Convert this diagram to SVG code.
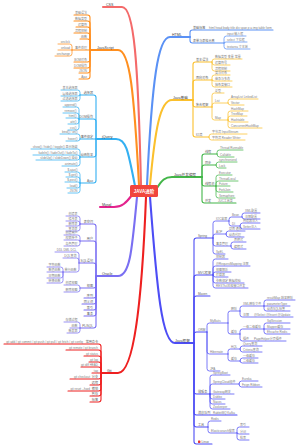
<svg xmlns="http://www.w3.org/2000/svg" width="300" height="447" viewBox="0 0 300 447">
<style>
text{font-family:"Liberation Sans","Noto Sans CJK SC",sans-serif;font-size:3px;fill:#808080}
.m{font-size:3.6px;fill:#444}
.s{font-size:3.1px;fill:#666}
.e{text-anchor:end}
.r{font-size:4.5px;fill:#fff;font-weight:bold;text-anchor:middle}
path{fill:none;stroke-linecap:round;stroke-linejoin:round}
.w0{stroke-width:2.1}
.w1{stroke-width:1.1}
.w2{stroke-width:.75}
.cs{stroke:#f46a6a}
.js{stroke:#ff8f1f}
.jq{stroke:#33b0f2}
.my{stroke:#e3238d}
.or{stroke:#7a6ff2}
.gt{stroke:#ee2020}
.ht{stroke:#5a91f5}
.jb{stroke:#fbc02d}
.gr{stroke:#43b649}
.jf{stroke:#4d4df5}
</style>
<rect width="300" height="447" fill="#fff"/>
<g id="connectors">
<g class="cs"><path class="w0" d="M141,185C138,60 134,7 122,7H103"/></g>
<g class="js">
<path class="w0" d="M139,185C134,92 130,50 118,50H90"/>
<path class="w1" d="M90,50V17.5Q90,15 87.5,15H74"/>
<path class="w1" d="M90,50V23.5Q90,21 87.5,21H74"/>
<path class="w1" d="M90,50V29.5Q90,27 87.5,27H76"/>
<path class="w1" d="M90,50V35.5Q90,33 87.5,33H74"/>
<path class="w1" d="M90,50V41.5Q90,39 87.5,39H80"/>
<path class="w1" d="M90,50H72"/>
<path class="w1" d="M90,50V59.5Q90,62 87.5,62H74"/>
<path class="w1" d="M90,50V65.5Q90,68 87.5,68H74"/>
<path class="w1" d="M90,50V70.5Q90,73 87.5,73H79"/>
<path class="w1" d="M90,50V76.5Q90,79 87.5,79H79"/>
<path class="w2" d="M72,50V46.5Q72,44 69.5,44H58"/>
<path class="w2" d="M72,50H58"/>
<path class="w2" d="M72,50V53.5Q72,56 69.5,56H55"/>
</g>
<g class="jq">
<path class="w0" d="M135,186C128,150 126,139 116,139H96"/>
<path class="w1" d="M96,139V97.5Q96,95 93.5,95H80"/>
<path class="w1" d="M96,139V121.5Q96,119 93.5,119H79"/>
<path class="w1" d="M96,139H80"/>
<path class="w1" d="M96,139V154.5Q96,157 93.5,157H80"/>
<path class="w1" d="M96,139V180.5Q96,183 93.5,183H80"/>
<path class="w2" d="M80,95V92.5Q80,90 77.5,90H61"/>
<path class="w2" d="M80,95Q80,96 77.5,96H61"/>
<path class="w2" d="M80,95V98.5Q80,101 77.5,101H61"/>
<path class="w2" d="M79,119V109.5Q79,107 76.5,107H63"/>
<path class="w2" d="M79,119V115.5Q79,113 76.5,113H63"/>
<path class="w2" d="M79,119Q79,118 76.5,118H66"/>
<path class="w2" d="M79,119V121.5Q79,124 76.5,124H68"/>
<path class="w2" d="M79,119V127.5Q79,130 76.5,130H68"/>
<path class="w2" d="M80,139V136.5Q80,134 77.5,134H60"/>
<path class="w2" d="M80,139Q80,141 77.5,141H66"/>
<path class="w2" d="M80,157V151.5Q80,149 77.5,149H31"/>
<path class="w2" d="M80,157Q80,155 77.5,155H33"/>
<path class="w2" d="M80,157Q80,160 77.5,160H36"/>
<path class="w2" d="M80,157V163.5Q80,166 77.5,166H62"/>
<path class="w2" d="M80,183V174.5Q80,172 77.5,172H65"/>
<path class="w2" d="M80,183V179.5Q80,177 77.5,177H66"/>
<path class="w2" d="M80,183Q80,182 77.5,182H65"/>
<path class="w2" d="M80,183V185.5Q80,188 77.5,188H67"/>
<path class="w2" d="M80,183V190.5Q80,193 77.5,193H68"/>
</g>
<g class="my"><path class="w0" d="M132,195C126,203 122,207 114,207H100"/></g>
<g class="or">
<path class="w0" d="M137,197C132,250 130,276 118,276H96"/>
<path class="w1" d="M96,276V226.5Q96,224 93.5,224H80"/>
<path class="w1" d="M96,276V243.5Q96,241 93.5,241H80"/>
<path class="w1" d="M96,276V265.5Q96,263 93.5,263H79"/>
<path class="w1" d="M96,276V285.5Q96,288 93.5,288H80"/>
<path class="w1" d="M96,276V295.5Q96,298 93.5,298H84"/>
<path class="w1" d="M96,276V301.5Q96,304 93.5,304H82"/>
<path class="w1" d="M96,276V307.5Q96,310 93.5,310H84"/>
<path class="w1" d="M96,276V313.5Q96,316 93.5,316H84"/>
<path class="w1" d="M96,276V325.5Q96,328 93.5,328H80"/>
<path class="w2" d="M80,224V218.5Q80,216 77.5,216H66"/>
<path class="w2" d="M80,224V223.5Q80,221 77.5,221H66"/>
<path class="w2" d="M80,224Q80,226 77.5,226H66"/>
<path class="w2" d="M80,224V228.5Q80,231 77.5,231H66"/>
<path class="w2" d="M80,241V237.5Q80,235 77.5,235H64"/>
<path class="w2" d="M80,241Q80,240 77.5,240H64"/>
<path class="w2" d="M80,241V243.5Q80,246 77.5,246H64"/>
<path class="w2" d="M79,263V254.5Q79,252 76.5,252H55"/>
<path class="w2" d="M79,263V260.5Q79,258 76.5,258H63"/>
<path class="w2" d="M79,263V269.5Q79,272 76.5,272H63"/>
<path class="w2" d="M63,272V269.5Q63,267 60.5,267H47"/>
<path class="w2" d="M63,272H47"/>
<path class="w2" d="M63,272V275.5Q63,278 60.5,278H47"/>
<path class="w2" d="M63,272V280.5Q63,283 60.5,283H47"/>
<path class="w2" d="M80,288V287.5Q80,285 77.5,285H64"/>
<path class="w2" d="M80,288V289.5Q80,292 77.5,292H64"/>
<path class="w2" d="M80,328V324.5Q80,322 77.5,322H64"/>
<path class="w2" d="M80,328H70"/>
<path class="w2" d="M80,328V330.5Q80,333 77.5,333H67"/>
</g>
<g class="gt">
<path class="w0" d="M146,197C142,300 134,373 118,373H101"/>
<path class="w1" d="M101,373V346.5Q101,344 98.5,344H4"/>
<path class="w1" d="M101,373V352.5Q101,350 98.5,350H66"/>
<path class="w1" d="M101,373V358.5Q101,356 98.5,356H84"/>
<path class="w1" d="M101,373V364.5Q101,362 98.5,362H89"/>
<path class="w1" d="M101,373V369.5Q101,367 98.5,367H81"/>
<path class="w1" d="M101,373H92"/>
<path class="w1" d="M101,373V376.5Q101,379 98.5,379H70"/>
<path class="w1" d="M101,373V382.5Q101,385 98.5,385H90"/>
<path class="w1" d="M101,373V388.5Q101,391 98.5,391H68"/>
<path class="w1" d="M101,373V393.5Q101,396 98.5,396H90"/>
<path class="w1" d="M101,373V399.5Q101,402 98.5,402H90"/>
</g>
<g class="ht">
<path class="w0" d="M147,185C152,80 158,37 170,37H190"/>
<path class="w1" d="M190,37V32.5Q190,30 192.5,30H273"/>
<path class="w1" d="M190,37V40.5Q190,43 192.5,43H224"/>
<path class="w2" d="M224,43V38.5Q224,36 226.5,36H246"/>
<path class="w2" d="M224,43Q224,42 226.5,42H247"/>
<path class="w2" d="M224,43V46.5Q224,49 226.5,49H250"/>
</g>
<g class="jb">
<path class="w0" d="M150,185C155,130 160,100 172,100H193"/>
<path class="w1" d="M193,100V64.5Q193,62 195.5,62H212"/>
<path class="w1" d="M193,100V82.5Q193,80 195.5,80H212"/>
<path class="w1" d="M193,100V104.5Q193,107 195.5,107H212"/>
<path class="w1" d="M193,100V134.5Q193,137 195.5,137H209"/>
<path class="w2" d="M212,62V61.5Q212,59 214.5,59H242"/>
<path class="w2" d="M212,62V62.5Q212,65 214.5,65H230"/>
<path class="w2" d="M212,62V68.5Q212,71 214.5,71H230"/>
<path class="w2" d="M212,80V77.5Q212,75 214.5,75H230"/>
<path class="w2" d="M212,80Q212,81 214.5,81H232"/>
<path class="w2" d="M212,80V84.5Q212,87 214.5,87H232"/>
<path class="w2" d="M212,107V95.5Q212,93 214.5,93H224"/>
<path class="w2" d="M212,107V105.5Q212,103 214.5,103H228"/>
<path class="w2" d="M212,107V117.5Q212,120 214.5,120H228"/>
<path class="w2" d="M228,103V101.5Q228,99 230.5,99H258"/>
<path class="w2" d="M228,103Q228,105 230.5,105H244"/>
<path class="w2" d="M228,120V113.5Q228,111 230.5,111H248"/>
<path class="w2" d="M228,120V118.5Q228,116 230.5,116H247"/>
<path class="w2" d="M228,120Q228,122 230.5,122H248"/>
<path class="w2" d="M228,120V125.5Q228,128 230.5,128H262"/>
<path class="w2" d="M209,137V136.5Q209,134 211.5,134H247"/>
<path class="w2" d="M209,137V137.5Q209,140 211.5,140H245"/>
</g>
<g class="gr">
<path class="w0" d="M157,188C162,180 165,177 172,177H202"/>
<path class="w1" d="M202,177V156.5Q202,154 204.5,154H217"/>
<path class="w1" d="M202,177V167.5Q202,165 204.5,165H216"/>
<path class="w1" d="M202,177V183.5Q202,186 204.5,186H216"/>
<path class="w1" d="M202,177V200.5Q202,203 204.5,203H236"/>
<path class="w2" d="M217,154V152.5Q217,150 219.5,150H243"/>
<path class="w2" d="M217,154Q217,157 219.5,157H234"/>
<path class="w2" d="M216,165Q216,162 218.5,162H237"/>
<path class="w2" d="M216,165Q216,168 218.5,168H226"/>
<path class="w2" d="M216,186V177.5Q216,175 218.5,175H232"/>
<path class="w2" d="M216,186V183.5Q216,181 218.5,181H238"/>
<path class="w2" d="M216,186H230"/>
<path class="w2" d="M216,186V189.5Q216,192 218.5,192H233"/>
<path class="w2" d="M216,186V195.5Q216,198 218.5,198H235"/>
</g>
<g class="jf">
<path class="w0" d="M150,197C157,290 162,343 175,343H194"/>
<path class="w1" d="M194,343V240.5Q194,238 196.5,238H213"/>
<path class="w1" d="M194,343V277.5Q194,275 196.5,275H213"/>
<path class="w1" d="M194,343V298.5Q194,296 196.5,296H210"/>
<path class="w1" d="M194,343V334.5Q194,332 196.5,332H207"/>
<path class="w1" d="M194,343V391.5Q194,394 196.5,394H210"/>
<path class="w1" d="M194,343V412.5Q194,415 196.5,415H237"/>
<path class="w1" d="M194,343V424.5Q194,427 196.5,427H208"/>
<path class="w1" d="M194,343V441.5Q194,444 196.5,444H212"/>
<path class="w2" d="M213,238V223.5Q213,221 215.5,221H229"/>
<path class="w2" d="M213,238V236.5Q213,234 215.5,234H226"/>
<path class="w2" d="M213,238V243.5Q213,246 215.5,246H231"/>
<path class="w2" d="M213,238V251.5Q213,254 215.5,254H225"/>
<path class="w2" d="M229,221V219.5Q229,217 231.5,217H242"/>
<path class="w2" d="M229,221V223.5Q229,226 231.5,226H240"/>
<path class="w2" d="M242,217V215.5Q242,213 244.5,213H260"/>
<path class="w2" d="M242,217Q242,219 244.5,219H260"/>
<path class="w2" d="M240,226Q240,223 242.5,223H260"/>
<path class="w2" d="M240,226Q240,229 242.5,229H260"/>
<path class="w2" d="M226,234Q226,231 228.5,231H245"/>
<path class="w2" d="M226,234Q226,237 228.5,237H244"/>
<path class="w2" d="M231,246V244.5Q231,242 233.5,242H246"/>
<path class="w2" d="M231,246V246.5Q231,249 233.5,249H246"/>
<path class="w2" d="M213,275V261.5Q213,259 215.5,259H228"/>
<path class="w2" d="M213,275V268.5Q213,266 215.5,266H250"/>
<path class="w2" d="M213,275V274.5Q213,272 215.5,272H231"/>
<path class="w2" d="M213,275Q213,277 215.5,277H228"/>
<path class="w2" d="M213,275V280.5Q213,283 215.5,283H244"/>
<path class="w2" d="M213,275V285.5Q213,288 215.5,288H248"/>
<path class="w2" d="M207,332V325.5Q207,323 209.5,323H228"/>
<path class="w2" d="M207,332V351.5Q207,354 209.5,354H228"/>
<path class="w2" d="M207,332V368.5Q207,371 209.5,371H220"/>
<path class="w2" d="M228,323V313.5Q228,311 230.5,311H240"/>
<path class="w2" d="M228,323V331.5Q228,334 230.5,334H240"/>
<path class="w2" d="M240,311V308.5Q240,306 242.5,306H264"/>
<path class="w2" d="M240,311V314.5Q240,317 242.5,317H293"/>
<path class="w2" d="M264,306V302.5Q264,300 266.5,300H295"/>
<path class="w2" d="M264,306H290"/>
<path class="w2" d="M264,306V308.5Q264,311 266.5,311H290"/>
<path class="w2" d="M240,334V331.5Q240,329 242.5,329H264"/>
<path class="w2" d="M240,334V338.5Q240,341 242.5,341H286"/>
<path class="w2" d="M264,329V325.5Q264,323 266.5,323H290"/>
<path class="w2" d="M264,329H290"/>
<path class="w2" d="M264,329V331.5Q264,334 266.5,334H290"/>
<path class="w2" d="M228,354V351.5Q228,349 230.5,349H240"/>
<path class="w2" d="M228,354V358.5Q228,361 230.5,361H240"/>
<path class="w2" d="M240,349Q240,346 242.5,346H262"/>
<path class="w2" d="M240,349Q240,352 242.5,352H262"/>
<path class="w2" d="M240,361Q240,358 242.5,358H258"/>
<path class="w2" d="M240,361Q240,363 242.5,363H258"/>
<path class="w2" d="M210,394V377.5Q210,375 212.5,375H230"/>
<path class="w2" d="M210,394V386.5Q210,384 212.5,384H239"/>
<path class="w2" d="M210,394H234"/>
<path class="w2" d="M210,394V396.5Q210,399 212.5,399H225"/>
<path class="w2" d="M210,394V401.5Q210,404 212.5,404H225"/>
<path class="w2" d="M210,394V406.5Q210,409 212.5,409H230"/>
<path class="w2" d="M239,384Q239,381 241.5,381H258"/>
<path class="w2" d="M239,384Q239,387 241.5,387H262"/>
<path class="w2" d="M208,427V423.5Q208,421 210.5,421H221"/>
<path class="w2" d="M208,427V430.5Q208,433 210.5,433H237"/>
<path class="w2" d="M237,433V429.5Q237,427 239.5,427H249"/>
<path class="w2" d="M237,433Q237,434 239.5,434H249"/>
<path class="w2" d="M237,433V437.5Q237,440 239.5,440H249"/>
</g>
</g>
<g id="root"><rect x="130" y="185" width="28" height="12" rx="1.5" fill="#f1453d"/><text class="r" x="144" y="192.7">JAVA进阶</text></g>
<g id="css"><text class="m" x="106" y="5.8">CSS</text></g>
<g id="js"><text class="m" x="97" y="48.8">JavaScript</text></g>
<g id="js1"><text class="e" x="87" y="14.2">基础语法</text></g>
<g id="js2"><text class="e" x="87" y="20.2">数据类型</text></g>
<g id="js3"><text class="e" x="87" y="26.2">运算符</text></g>
<g id="js4"><text class="e" x="87" y="32.2">流程控制</text></g>
<g id="js5"><text class="e" x="87" y="38.2">函数</text></g>
<g id="js6"><text class="e" x="87" y="49.2">事件处理</text></g>
<g id="js6a"><text class="e" x="70" y="43.2">onclick</text></g>
<g id="js6b"><text class="e" x="70" y="49.2">onload</text></g>
<g id="js6c"><text class="e" x="70" y="55.2">onchange</text></g>
<g id="js7"><text class="e" x="87" y="61.2">BOM对象</text></g>
<g id="js8"><text class="e" x="87" y="67.2">DOM操作</text></g>
<g id="js9"><text class="e" x="87" y="72.2">JSON</text></g>
<g id="js10"><text class="e" x="87" y="78.2">Ajax</text></g>
<g id="jq"><text class="m" x="102" y="137.8">jQuery</text></g>
<g id="jq1"><text class="e s" x="93" y="94.2">选择器</text></g>
<g id="jq1a"><text class="e" x="77.5" y="89.2">基本选择器</text></g>
<g id="jq1b"><text class="e" x="77.5" y="95.2">层级选择器</text></g>
<g id="jq1c"><text class="e" x="77.5" y="100.2">过滤选择器</text></g>
<g id="jq2"><text class="e s" x="93" y="118.2">DOM操作</text></g>
<g id="jq2a"><text class="e" x="76.5" y="106.2">append()</text></g>
<g id="jq2b"><text class="e" x="76.5" y="112.2">remove()</text></g>
<g id="jq2c"><text class="e" x="76.5" y="117.2">html()</text></g>
<g id="jq2d"><text class="e" x="76.5" y="123.2">attr()</text></g>
<g id="jq2e"><text class="e" x="76.5" y="129.2">css()</text></g>
<g id="jq3"><text class="e s" x="93" y="138.2">事件绑定</text></g>
<g id="jq3a"><text class="e" x="77.5" y="133.2">bind() / on()</text></g>
<g id="jq3b"><text class="e" x="77.5" y="140.2">hover()</text></g>
<g id="jq4"><text class="e s" x="93" y="156.2">动画效果</text></g>
<g id="jq4a"><text class="e" x="77.5" y="148.2">show() / hide() / toggle() 显示隐藏</text></g>
<g id="jq4b"><text class="e" x="77.5" y="154.2">fadeIn() / fadeOut() / fadeTo()</text></g>
<g id="jq4c"><text class="e" x="77.5" y="159.2">slideUp() / slideDown() 滑动</text></g>
<g id="jq4d"><text class="e" x="77.5" y="165.2">animate()</text></g>
<g id="jq5"><text class="e s" x="93" y="182.2">Ajax</text></g>
<g id="jq5a"><text class="e" x="77.5" y="171.2">$.ajax()</text></g>
<g id="jq5b"><text class="e" x="77.5" y="176.2">$.get()</text></g>
<g id="jq5c"><text class="e" x="77.5" y="181.2">$.post()</text></g>
<g id="jq5d"><text class="e" x="77.5" y="187.2">load()</text></g>
<g id="jq5e"><text class="e" x="77.5" y="192.2">JSON</text></g>
<g id="mysql"><text class="m" x="102" y="205.8">Mysql</text></g>
<g id="or"><text class="m" x="102" y="274.8">Oracle</text></g>
<g id="or1"><text class="e s" x="93" y="223.2">表空间</text></g>
<g id="or1a"><text class="e" x="77.5" y="215.2">创建表</text></g>
<g id="or1b"><text class="e" x="77.5" y="220.2">修改表</text></g>
<g id="or1c"><text class="e" x="77.5" y="225.2">删除表</text></g>
<g id="or1d"><text class="e" x="77.5" y="230.2">查询表</text></g>
<g id="or2"><text class="e s" x="93" y="240.2">用户</text></g>
<g id="or2a"><text class="e" x="77.5" y="234.2">创建用户</text></g>
<g id="or2b"><text class="e" x="77.5" y="239.2">权限授予</text></g>
<g id="or2c"><text class="e" x="77.5" y="245.2">角色管理</text></g>
<g id="or3"><text class="e s" x="93" y="262.2">SQL语句</text></g>
<g id="or3a"><text class="e" x="76.5" y="251.2">DDL DML DCL</text></g>
<g id="or3b"><text class="e" x="76.5" y="257.2">DQL查询</text></g>
<g id="or3c"><text class="e" x="76.5" y="271.2">单行函数</text></g>
<g id="or3c1"><text class="e" x="60.5" y="266.2">字符函数</text></g>
<g id="or3c2"><text class="e" x="60.5" y="271.2">数值函数</text></g>
<g id="or3c3"><text class="e" x="60.5" y="277.2">日期函数</text></g>
<g id="or3c4"><text class="e" x="60.5" y="282.2">转换函数</text></g>
<g id="or4"><text class="e s" x="93" y="287.2">视图</text></g>
<g id="or4a"><text class="e" x="77.5" y="284.2">创建视图</text></g>
<g id="or4b"><text class="e" x="77.5" y="291.2">删除视图</text></g>
<g id="or5"><text class="e s" x="93" y="297.2">序列</text></g>
<g id="or6"><text class="e s" x="93" y="303.2">同义词</text></g>
<g id="or7"><text class="e s" x="93" y="309.2">索引</text></g>
<g id="or8"><text class="e s" x="93" y="315.2">事务</text></g>
<g id="or9"><text class="e s" x="93" y="327.2">PL/SQL</text></g>
<g id="or9a"><text class="e" x="77.5" y="321.2">存储过程</text></g>
<g id="or9b"><text class="e" x="77.5" y="327.2">函数</text></g>
<g id="or9c"><text class="e" x="77.5" y="332.2">触发器</text></g>
<g id="git"><text class="m" x="107" y="372.2">Git</text></g>
<g id="git1"><text class="e s" x="98" y="343.2">常用命令</text></g>
<g id="git1a"><text class="e" x="83" y="343.2">git add / git commit / git push / git pull / git fetch / git config</text></g>
<g id="git2"><text class="e" x="98" y="349.2">git remote / git branch</text></g>
<g id="git3"><text class="e" x="98" y="355.2">git status</text></g>
<g id="git4"><text class="e" x="98" y="361.2">git log</text></g>
<g id="git5"><text class="e" x="98" y="366.2">git diff HEAD</text></g>
<g id="git6"><text class="e" x="98" y="372.2">tag</text></g>
<g id="git7"><text class="e s" x="98" y="378.2">分支</text></g>
<g id="git7a"><text class="e" x="90" y="378.2">git checkout</text></g>
<g id="git8"><text class="e s" x="98" y="384.2">远程</text></g>
<g id="git9"><text class="e s" x="98" y="390.2">撤销</text></g>
<g id="git9a"><text class="e" x="90" y="390.2">git reset --hard</text></g>
<g id="git10"><text class="e s" x="98" y="395.2">暂存</text></g>
<g id="git11"><text class="e s" x="98" y="401.2">标签</text></g>
<g id="html"><text class="m" x="172" y="36">HTML</text></g>
<g id="ht1"><text class="s" x="193" y="29.2">基础标签</text></g>
<g id="ht1a"><text x="209" y="29.2">html head body title div span p a img table form</text></g>
<g id="ht2"><text class="s" x="193" y="42.2">表单与表格元素</text></g>
<g id="ht2a"><text x="227" y="35.2">input 输入框</text></g>
<g id="ht2b"><text x="227" y="41.2">select 下拉框</text></g>
<g id="ht2c"><text x="227" y="48.2">textarea 文本域</text></g>
<g id="jb"><text class="m" x="173" y="99">Java基础</text></g>
<g id="jb1"><text class="s" x="196" y="61.2">基本语法</text></g>
<g id="jb1a"><text x="215" y="58.2">数据类型 变量 常量</text></g>
<g id="jb1b"><text x="215" y="64.2">运算符号</text></g>
<g id="jb1c"><text x="215" y="70.2">流程控制</text></g>
<g id="jb2"><text class="s" x="196" y="79.2">面向对象</text></g>
<g id="jb2a"><text x="215" y="74.2">类与对象</text></g>
<g id="jb2b"><text x="215" y="80.2">继承与多态</text></g>
<g id="jb2c"><text x="215" y="86.2">抽象类接口</text></g>
<g id="jb3"><text class="s" x="196" y="106.2">集合框架</text></g>
<g id="jb3a"><text x="215" y="92.2">泛型</text></g>
<g id="jb3b"><text x="215" y="102.2">List</text></g>
<g id="jb3b1"><text x="231" y="98.2">ArrayList LinkedList</text></g>
<g id="jb3b2"><text x="231" y="104.2">Vector</text></g>
<g id="jb3c"><text x="215" y="119.2">Map</text></g>
<g id="jb3c1"><text x="231" y="110.2">HashMap</text></g>
<g id="jb3c2"><text x="231" y="115.2">TreeMap</text></g>
<g id="jb3c3"><text x="231" y="121.2">Hashtable</text></g>
<g id="jb3c4"><text x="231" y="127.2">ConcurrentHashMap</text></g>
<g id="jb4"><text class="s" x="196" y="136.2">IO流</text></g>
<g id="jb4a"><text x="212" y="133.2">字节流 InputStream</text></g>
<g id="jb4b"><text x="212" y="139.2">字符流 Reader Writer</text></g>
<g id="gr"><text class="m" x="174" y="176">Java并发编程</text></g>
<g id="gr1"><text class="s" x="205" y="153.2">线程</text></g>
<g id="gr1a"><text x="220" y="149.2">Thread Runnable</text></g>
<g id="gr1b"><text x="220" y="156.2">Callable</text></g>
<g id="gr2"><text class="s" x="205" y="164.2">同步</text></g>
<g id="gr2a"><text x="219" y="161.2">synchronized</text></g>
<g id="gr2b"><text x="219" y="167.2">Lock</text></g>
<g id="gr3"><text class="s" x="205" y="185.2">线程池</text></g>
<g id="gr3a"><text x="219" y="174.2">Executor</text></g>
<g id="gr3b"><text x="219" y="180.2">ThreadLocal</text></g>
<g id="gr3c"><text x="219" y="185.2">Future</text></g>
<g id="gr3d"><text x="219" y="191.2">ForkJoin</text></g>
<g id="gr3e"><text x="219" y="197.2">Semaphore</text></g>
<g id="gr4"><text class="s" x="205" y="202.2">并发</text></g>
<g id="gr4a"><text x="218" y="202.2">JUC工具类</text></g>
<g id="jf"><text class="m" x="175" y="342">Java框架</text></g>
<g id="jf1"><text class="s" x="198" y="237.2">Spring</text></g>
<g id="jf1a"><text x="216" y="220.2">IOC容器</text></g>
<g id="jf1a1"><text x="232" y="216.2">Bean</text></g>
<g id="jf1a1a"><text x="245" y="212.2">XML配置</text></g>
<g id="jf1a1b"><text x="245" y="218.2">注解配置</text></g>
<g id="jf1a2"><text x="232" y="225.2">DI</text></g>
<g id="jf1a2a"><text x="243" y="222.2">构造器注入</text></g>
<g id="jf1a2b"><text x="243" y="228.2">Setter注入</text></g>
<g id="jf1b"><text x="216" y="233.2">AOP</text></g>
<g id="jf1b1"><text x="229" y="230.2">切面 通知</text></g>
<g id="jf1b2"><text x="229" y="236.2">动态代理</text></g>
<g id="jf1c"><text x="216" y="245.2">事务管理</text></g>
<g id="jf1c1"><text x="234" y="241.2">声明式</text></g>
<g id="jf1c2"><text x="234" y="248.2">编程式</text></g>
<g id="jf1d"><text x="216" y="253.2">SpEL</text></g>
<g id="jf2"><text class="s" x="198" y="274.2">MVC框架</text></g>
<g id="jf2a"><text x="216" y="258.2">控制器</text></g>
<g id="jf2b"><text x="216" y="265.2">@RequestMapping 注解</text></g>
<g id="jf2c"><text x="216" y="271.2">视图解析</text></g>
<g id="jf2d"><text x="216" y="276.2">拦截器</text></g>
<g id="jf2e"><text x="216" y="282.2">参数绑定 数据校验</text></g>
<g id="jf2f"><text x="216" y="287.2">RESTful风格接口开发</text></g>
<g id="jf3"><text class="s" x="198" y="295.2">Maven</text></g>
<g id="jf4"><text class="s" x="198" y="331.2">ORM</text></g>
<g id="jf4a"><text x="210" y="322.2">MyBatis</text></g>
<g id="jf4a1"><text x="231" y="310.2">映射</text></g>
<g id="jf4a1a"><text x="243" y="305.2">XML映射文件</text></g>
<g id="jf4a1a1"><text x="267" y="299.2">resultMap 结果映射</text></g>
<g id="jf4a1a2"><text x="267" y="305.2">parameterType</text></g>
<g id="jf4a1a3"><text x="267" y="310.2">动态SQL标签</text></g>
<g id="jf4a1b"><text x="243" y="316.2">注解</text></g>
<g id="jf4a1b1"><text x="254" y="316.2">@Select @Insert @Update</text></g>
<g id="jf4a2"><text x="231" y="333.2">缓存</text></g>
<g id="jf4a2a"><text x="243" y="328.2">一级二级缓存</text></g>
<g id="jf4a2a1"><text x="267" y="322.2">SqlSession</text></g>
<g id="jf4a2a2"><text x="267" y="328.2">Mapper缓存</text></g>
<g id="jf4a2a3"><text x="267" y="333.2">Ehcache Redis</text></g>
<g id="jf4a2b"><text x="243" y="340.2">插件</text></g>
<g id="jf4a2b1"><text x="254" y="340.2">PageHelper分页插件</text></g>
<g id="jf4b"><text x="210" y="353.2">Hibernate</text></g>
<g id="jf4b1"><text x="231" y="348.2">HQL</text></g>
<g id="jf4b1a"><text x="243" y="345.2">Query查询</text></g>
<g id="jf4b1b"><text x="243" y="351.2">Criteria查询</text></g>
<g id="jf4b2"><text x="231" y="360.2">缓存</text></g>
<g id="jf4b2a"><text x="243" y="357.2">一级缓存</text></g>
<g id="jf4b2b"><text x="243" y="362.2">二级缓存</text></g>
<g id="jf4c"><text x="210" y="370.2">JPA</text></g>
<g id="jf5"><text class="s" x="198" y="393.2">微服务</text></g>
<g id="jf5a"><text x="213" y="374.2">SpringBoot</text></g>
<g id="jf5b"><text x="213" y="383.2">SpringCloud组件</text></g>
<g id="jf5b1"><text x="242" y="380.2">Eureka</text></g>
<g id="jf5b2"><text x="242" y="386.2">Feign Ribbon</text></g>
<g id="jf5c"><text x="213" y="393.2">Gateway网关</text></g>
<g id="jf5d"><text x="213" y="398.2">Dubbo</text></g>
<g id="jf5e"><text x="213" y="403.2">Nacos</text></g>
<g id="jf5f"><text x="213" y="408.2">Zookeeper</text></g>
<g id="jf6"><text class="s" x="198" y="414.2">消息队列</text></g>
<g id="jf6a"><text x="213" y="414.2">RabbitMQ Kafka</text></g>
<g id="jf7"><text class="s" x="198" y="426.2">工具</text></g>
<g id="jf7a"><text x="211" y="420.2">Redis</text></g>
<g id="jf7b"><text x="211" y="432.2">Elasticsearch搜索</text></g>
<g id="jf7b1"><text x="240" y="426.2">索引</text></g>
<g id="jf7b2"><text x="240" y="433.2">分词</text></g>
<g id="jf7b3"><text x="240" y="439.2">检索</text></g>
<g id="jf8"><rect x="198" y="440.6" width="2.4" height="2.4" rx=".4" fill="#e53935"/><text class="s" x="201.5" y="443.2">Linux</text></g>
</svg>
